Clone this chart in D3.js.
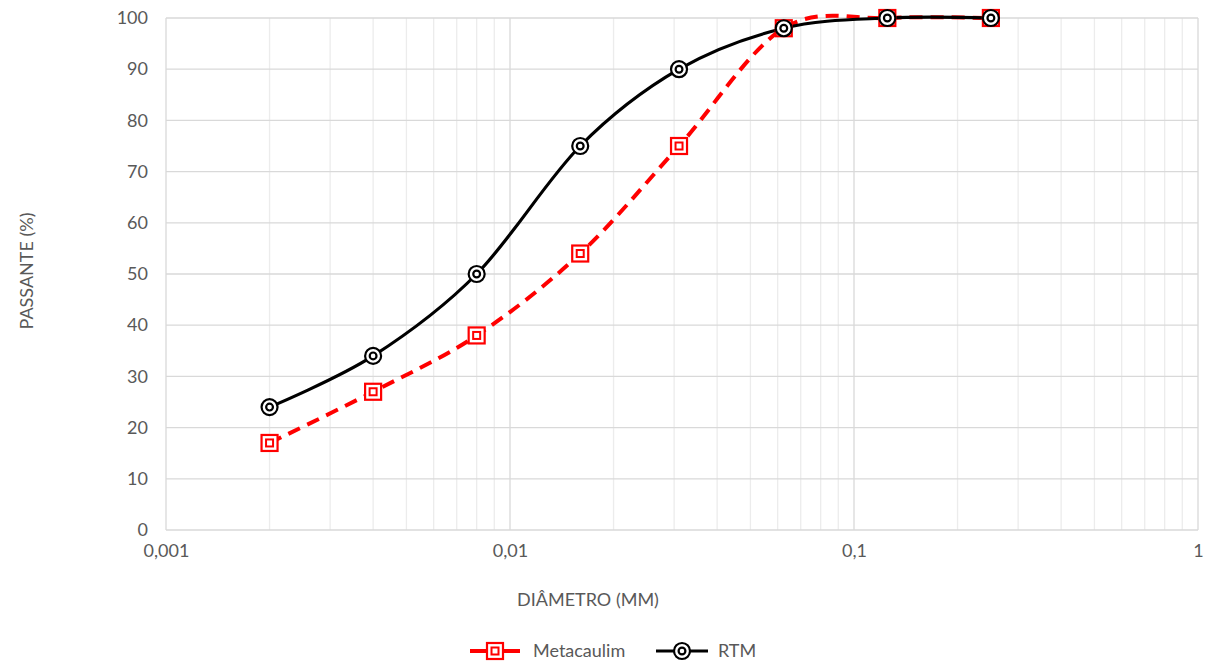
<!DOCTYPE html>
<html>
<head>
<meta charset="utf-8">
<script src="https://cdn.jsdelivr.net/npm/d3@7"></script>
<style>
  html, body { margin: 0; padding: 0; background: #ffffff; }
  svg { display: block; font-family: Lato, "Open Sans", "DejaVu Sans", sans-serif; }
</style>
</head>
<body>
<svg id="chart" width="1213" height="663"></svg>
<script>
// Grain size distribution: diameter (mm) vs percent passing
const diameters = [0.002, 0.004, 0.008, 0.016, 0.031, 0.0625, 0.125, 0.25];
const metacaulim = [17, 27, 38, 54, 75, 98, 100, 100];
const rtm = [24, 34, 50, 75, 90, 98, 100, 100];
const seriesNames = ["Metacaulim", "RTM"];
const xTickValues = [0.001, 0.01, 0.1, 1];
const xTickLabels = ["0,001", "0,01", "0,1", "1"];
const yTickValues = [0, 10, 20, 30, 40, 50, 60, 70, 80, 90, 100];

const svg = d3.select("#chart");
const margin = { left: 166, right: 15, top: 18, bottom: 133 };
const W = 1213, H = 663;
const x = d3.scaleLog().domain([0.001, 1]).range([margin.left, W - margin.right]);
const y = d3.scaleLinear().domain([0, 100]).range([H - margin.bottom, margin.top]);
const textColor = "#595959";
const fontSize = "18px";

const grid = svg.append("g");
// minor vertical gridlines (2..9 in each decade)
const minor = [];
for (let d = 0.001; d < 1; d *= 10) for (let k = 2; k <= 9; k++) minor.push(d * k);
grid.selectAll("line.minor").data(minor).join("line")
  .attr("x1", d => x(d)).attr("x2", d => x(d))
  .attr("y1", y(0)).attr("y2", y(100))
  .attr("stroke", "#ececec").attr("stroke-width", 1.3);
// major vertical gridlines
grid.selectAll("line.majorx").data(xTickValues).join("line")
  .attr("x1", d => x(d)).attr("x2", d => x(d))
  .attr("y1", y(0)).attr("y2", y(100))
  .attr("stroke", "#d9d9d9").attr("stroke-width", 1.3);
// horizontal gridlines
grid.selectAll("line.majory").data(yTickValues).join("line")
  .attr("x1", x(0.001)).attr("x2", x(1))
  .attr("y1", d => y(d)).attr("y2", d => y(d))
  .attr("stroke", "#d9d9d9").attr("stroke-width", 1.3);

// axes (labels only; lines come from the grid)
const xAxis = d3.axisBottom(x).tickValues(xTickValues)
  .tickFormat((d, i) => xTickLabels[i]).tickSize(0).tickPadding(14);
svg.append("g").attr("transform", `translate(0,${y(0)})`).call(xAxis)
  .call(g => g.select(".domain").remove())
  .selectAll("text").attr("fill", textColor).style("font-size", fontSize)
  .style("font-family", "Lato, 'Open Sans', sans-serif");

const yAxis = d3.axisLeft(y).tickValues(yTickValues).tickSize(0).tickPadding(18);
svg.append("g").attr("transform", `translate(${x(0.001)},0)`).call(yAxis)
  .call(g => g.select(".domain").remove())
  .selectAll("text").attr("fill", textColor).style("font-size", fontSize)
  .style("font-family", "Lato, 'Open Sans', sans-serif");

// axis titles
svg.append("text").attr("x", 588).attr("y", 606).attr("text-anchor", "middle")
  .attr("fill", textColor).style("font-size", fontSize).text("DIÂMETRO (MM)");
svg.append("text").attr("transform", "translate(33,271) rotate(-90)")
  .attr("text-anchor", "middle").attr("fill", textColor).style("font-size", fontSize)
  .text("PASSANTE (%)");

const line = d3.line().x(d => x(d[0])).y(d => y(d[1])).curve(d3.curveCatmullRom.alpha(0));
const metaPts = diameters.map((d, i) => [d, metacaulim[i]]);
const rtmPts = diameters.map((d, i) => [d, rtm[i]]);

const red = "#ff0000";
function squareMarker(g, cx, cy) {
  g.append("rect").attr("x", cx - 8).attr("y", cy - 8).attr("width", 16).attr("height", 16)
    .attr("fill", "#ffffff").attr("stroke", red).attr("stroke-width", 2.2);
  g.append("rect").attr("x", cx - 3.5).attr("y", cy - 3.5).attr("width", 7).attr("height", 7)
    .attr("fill", "none").attr("stroke", red).attr("stroke-width", 2);
}
function circleMarker(g, cx, cy) {
  g.append("circle").attr("cx", cx).attr("cy", cy).attr("r", 8)
    .attr("fill", "#ffffff").attr("stroke", "#000000").attr("stroke-width", 2.2);
  g.append("circle").attr("cx", cx).attr("cy", cy).attr("r", 3.4)
    .attr("fill", "none").attr("stroke", "#000000").attr("stroke-width", 2.2);
}

// Metacaulim series (dashed red)
svg.append("path").datum(metaPts).attr("d", line).attr("fill", "none")
  .attr("stroke", red).attr("stroke-width", 4).attr("stroke-dasharray", "13,8");
// RTM series (solid black)
svg.append("path").datum(rtmPts).attr("d", line).attr("fill", "none")
  .attr("stroke", "#000000").attr("stroke-width", 3.2);

const mg = svg.append("g");
metaPts.forEach(p => squareMarker(mg, x(p[0]), y(p[1])));
const rg = svg.append("g");
rtmPts.forEach(p => circleMarker(rg, x(p[0]), y(p[1])));

// legend
const leg = svg.append("g");
const ly = 651;
leg.append("line").attr("x1", 470).attr("x2", 520).attr("y1", ly).attr("y2", ly)
  .attr("stroke", red).attr("stroke-width", 4);
squareMarker(leg, 495, ly);
leg.append("text").attr("x", 533).attr("y", ly + 6).attr("fill", textColor)
  .style("font-size", fontSize).text(seriesNames[0]);
leg.append("line").attr("x1", 656).attr("x2", 708).attr("y1", ly).attr("y2", ly)
  .attr("stroke", "#000000").attr("stroke-width", 3.2);
circleMarker(leg, 682, ly);
leg.append("text").attr("x", 718).attr("y", ly + 6).attr("fill", textColor)
  .style("font-size", fontSize).text(seriesNames[1]);
</script>
</body>
</html>
